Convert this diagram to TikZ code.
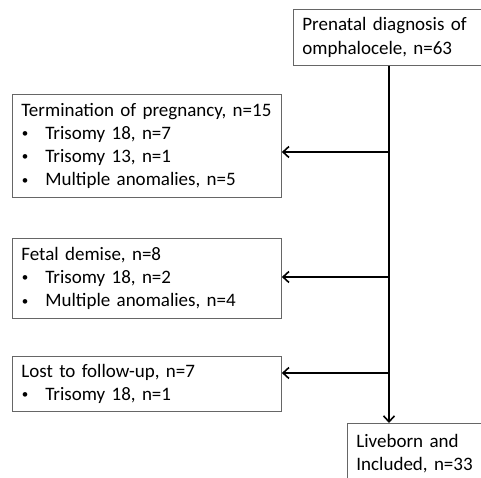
\documentclass[tikz,border=0pt]{standalone}
\usepackage{fontspec}
\setmainfont{Carlito}
\usetikzlibrary{arrows.meta}

\newcommand{\bul}{\makebox[24pt][l]{\hspace{0.5pt}\raisebox{1.6pt}{\fontsize{13}{13}\selectfont\textbullet}}}

\begin{document}
\begin{tikzpicture}[x=1pt, y=-1pt]
	\tikzstyle{box} = [draw=black!60, line width=0.8pt, rectangle, anchor=north west, inner xsep=9pt, align=left, font=\fontsize{19}{23.2}\selectfont]
	\tikzstyle{flow} = [line width=1.6pt, -{Straight Barb[length=6pt,width=11pt]}]
	\useasboundingbox (0,0) rectangle (481,478);
	\clip (0,0) rectangle (481,478);
	\node [box, text width=260pt, minimum height=56pt] (diag) at (293,9) {Prenatal diagnosis of\\omphalocele, n=63};
	\node [box, text width=251pt, minimum height=103pt] (top) at (12,94) {\mbox{Termination of pregnancy, n=15}\\\bul Trisomy 18, n=7\\\bul Trisomy 13, n=1\\\bul Multiple anomalies, n=5};
	\node [box, text width=251pt, minimum height=80pt] (demise) at (12,238) {Fetal demise, n=8\\\bul Trisomy 18, n=2\\\bul Multiple anomalies, n=4};
	\node [box, text width=251pt, minimum height=55pt] (lost) at (12,356) {Lost to follow-up, n=7\\\bul Trisomy 18, n=1};
	\node [box, text width=260pt, inner ysep=10.5pt] (live) at (347,423) {Liveborn and\\Included, n=33};
	\coordinate (j1) at (389,152);
	\coordinate (j2) at (389,277);
	\coordinate (j3) at (389,373);
	\draw [flow] (diag.south -| j1)--(live.north -| j1);
	\draw [flow] (j1)--(j1 -| top.east);
	\draw [flow] (j2)--(j2 -| demise.east);
	\draw [flow] (j3)--(j3 -| lost.east);
\end{tikzpicture}
\end{document}
